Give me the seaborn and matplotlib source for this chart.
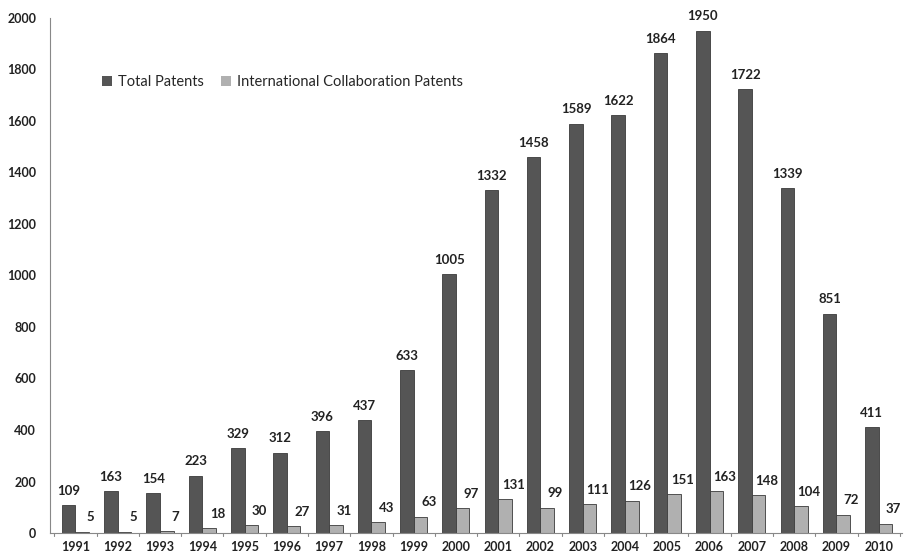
import pandas as pd
import seaborn as sns
import matplotlib.pyplot as plt

# data
years = [str(y) for y in range(1991, 2011)]
total_patents = [109, 163, 154, 223, 329, 312, 396, 437, 633, 1005,
                 1332, 1458, 1589, 1622, 1864, 1950, 1722, 1339, 851, 411]
intl_patents = [5, 5, 7, 18, 30, 27, 31, 43, 63, 97,
                131, 99, 111, 126, 151, 163, 148, 104, 72, 37]
series_names = ["Total Patents", "International Collaboration Patents"]
colors = ["#555555", "#b0b0b0"]

df = pd.DataFrame({
    "year": years * 2,
    "patents": total_patents + intl_patents,
    "series": [series_names[0]] * len(years) + [series_names[1]] * len(years),
})

sns.set_style("white")
plt.rcParams["font.family"] = ["Lato", "DejaVu Sans"]

fig = plt.figure(figsize=(9.11, 5.57), dpi=100)
ax = fig.add_axes([0.055, 0.043, 0.935, 0.925])

sns.barplot(data=df, x="year", y="patents", hue="series", palette=colors,
            width=0.64, edgecolor="#3a3a3a", linewidth=0.6, ax=ax)

# value labels on top of each bar (the light ones sit a bit to the right)
for i, cont in enumerate(ax.containers):
    labels = ax.bar_label(cont, padding=6 if i == 0 else 4, fontsize=9.5,
                          fontweight="bold", color="#222222")
    if i == 1:
        for t in labels:
            t.xyann = (6, 6)

ax.set_ylim(0, 2000)
ax.set_yticks(range(0, 2001, 200))
ax.set_xlim(-0.6, len(years) - 0.45)
ax.set_xlabel("")
ax.set_ylabel("")

for s in ["top", "right"]:
    ax.spines[s].set_visible(False)
ax.spines["left"].set_color("#888888")
ax.spines["bottom"].set_color("#888888")
ax.tick_params(axis="y", length=4, color="#888888", labelsize=9, pad=6)
ax.tick_params(axis="x", length=0, labelsize=9, pad=6)
for t in ax.get_xticklabels() + ax.get_yticklabels():
    t.set_fontweight("bold")
    t.set_color("#222222")

# small separators between the year groups on the x axis
for k in range(len(years) + 1):
    ax.plot([k - 0.5, k - 0.5], [0, -12], color="#888888", lw=0.8, clip_on=False)

leg = ax.legend(loc="upper left", bbox_to_anchor=(0.045, 0.915), ncol=2, frameon=False,
                fontsize=10.5, handlelength=0.7, handleheight=0.7, columnspacing=1.2,
                handletextpad=0.4)
for h in leg.legend_handles:
    h.set_edgecolor("none")

fig.savefig("out.png", dpi=100)
